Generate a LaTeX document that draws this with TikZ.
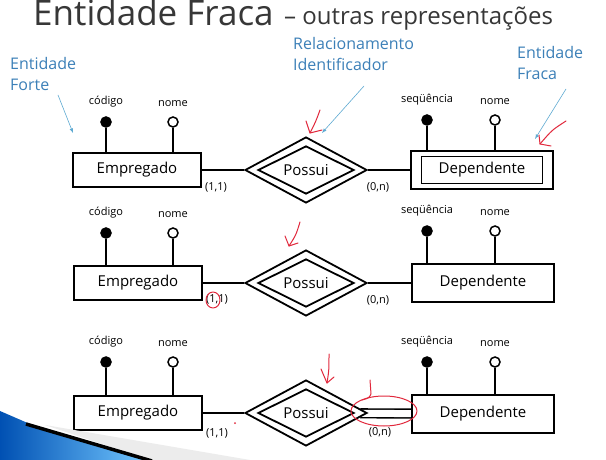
\documentclass[tikz,border=0pt]{standalone}
\usepackage{fontspec}
\setmainfont{Open Sans}
\newfontfamily\erfont{Open Sans}
\usepackage{xcolor}
\usetikzlibrary{shapes.geometric,positioning,arrows,backgrounds}

\definecolor{azul}{RGB}{60,128,184}
\definecolor{azulclaro}{RGB}{95,170,210}
\definecolor{vermelho}{RGB}{225,40,60}
\definecolor{titulo}{RGB}{55,55,55}

\tikzset{
  ent/.style={draw, line width=1.8pt, fill=white, minimum width=128pt, minimum height=34pt, inner sep=0pt, font=\erfont\fontsize{15}{17}\selectfont},
  fraca/.style={ent, minimum width=142pt, minimum height=38pt},
  fracain/.style={draw, line width=1.8pt, minimum width=121pt, minimum height=27pt, inner sep=0pt},
  rel/.style={draw, diamond, line width=1.8pt, fill=white, minimum width=122pt, minimum height=66pt, inner sep=0pt, font=\erfont\fontsize{15}{17}\selectfont},
  relin/.style={draw, diamond, line width=1.8pt, minimum width=96pt, minimum height=48pt, inner sep=0pt},
  chave/.style={circle, draw, fill=black, line width=1.5pt, minimum size=10pt, inner sep=0pt},
  atrib/.style={chave, fill=white},
  rotulo/.style={font=\erfont\fontsize{11}{12}\selectfont},
  card/.style={font=\erfont\fontsize{11}{12}\selectfont, inner sep=0pt},
  liga/.style={line width=1.8pt},
  nota/.style={text=azul, font=\fontsize{16}{21}\selectfont, align=left, anchor=north west, inner sep=0pt},
  seta/.style={draw=azulclaro, line width=0.6pt, -latex},
  risco/.style={draw=vermelho, line width=1pt, line cap=round, line join=round}
}

\begin{document}
\begin{tikzpicture}[x=1pt, y=-1pt]
\begin{pgfonlayer}{background}
\fill[white] (0,0) rectangle (606,460);
\end{pgfonlayer}
\useasboundingbox (0,0) rectangle (606,460);

% titulo
\node[anchor=base west, inner sep=0pt, text=titulo, font=\fontsize{35}{40}\selectfont] (tit) at (33,26) {Entidade Fraca};
\node[anchor=base west, inner sep=0pt, text=titulo, font=\fontsize{24}{28}\selectfont] (subtit) at (284,25) {-- outras representações};

% notas em azul
\node[nota] (forte) at (10,57) {Entidade\\Forte};
\node[nota] (ident) at (293,37) {Relacionamento\\Identificador};
\node[nota] (fraca) at (517,46) {Entidade\\Fraca};

% linha 1
\node[ent] (emp1) at (137,170) {Empregado};
\node[rel] (pos1) at (306,170) {Possui};
\node[relin] (pos1i) at (306,170) {};
\node[fraca] (dep1) at (482,170) {};
\node[fracain, font=\erfont\fontsize{15}{17}\selectfont] (dep1i) at (482,170) {Dependente};
\draw[liga] (emp1) -- (pos1);
\draw[liga] (pos1) -- (dep1);
\node[chave] (cod1) at (106,122) {};
\node[atrib] (nom1) at (173,122) {};
\node[rotulo, above=6pt of cod1] (cod1t) {código};
\node[rotulo, above=6pt of nom1] (nom1t) {nome};
\draw[liga] (cod1) -- (cod1 |- emp1.north);
\draw[liga] (nom1) -- (nom1 |- emp1.north);
\node[chave] (seq1) at (427,120) {};
\node[atrib] (dnom1) at (495,120) {};
\node[rotulo, above=6pt of seq1] (seq1t) {seqüência};
\node[rotulo, above=6pt of dnom1] (dnom1t) {nome};
\draw[liga] (seq1) -- (seq1 |- dep1.north);
\draw[liga] (dnom1) -- (dnom1 |- dep1.north);
\node[card] (c1a) at (216,187) {(1,1)};
\node[card] (c1b) at (378,187) {(0,n)};

% linha 2
\node[ent] (emp2) at (138,283) {Empregado};
\node[rel] (pos2) at (306,283) {Possui};
\node[relin] (pos2i) at (306,283) {};
\node[fraca] (dep2) at (483,283) {Dependente};
\draw[liga] (emp2) -- (pos2);
\draw[liga] (pos2) -- (dep2);
\node[chave] (cod2) at (106,233) {};
\node[atrib] (nom2) at (173,233) {};
\node[rotulo, above=6pt of cod2] (cod2t) {código};
\node[rotulo, above=6pt of nom2] (nom2t) {nome};
\draw[liga] (cod2) -- (cod2 |- emp2.north);
\draw[liga] (nom2) -- (nom2 |- emp2.north);
\node[chave] (seq2) at (427,231) {};
\node[atrib] (dnom2) at (495,231) {};
\node[rotulo, above=6pt of seq2] (seq2t) {seqüência};
\node[rotulo, above=6pt of dnom2] (dnom2t) {nome};
\draw[liga] (seq2) -- (seq2 |- dep2.north);
\draw[liga] (dnom2) -- (dnom2 |- dep2.north);
\node[card] (c2a) at (217,299) {(1,1)};
\node[card] (c2b) at (378,300) {(0,n)};

% linha 3
\node[ent] (emp3) at (138,413) {Empregado};
\node[rel] (pos3) at (306,413) {Possui};
\node[relin] (pos3i) at (306,413) {};
\node[fraca] (dep3) at (483,414) {Dependente};
\draw[liga] (emp3) -- (pos3);
\begin{pgfonlayer}{background}
\draw[line width=1.6pt, double, double distance=7pt, shorten <=-7pt] (pos3) -- (dep3);
\end{pgfonlayer}
\node[chave] (cod3) at (106,362) {};
\node[atrib] (nom3) at (173,362) {};
\node[rotulo, above=6pt of cod3] (cod3t) {código};
\node[rotulo, above=6pt of nom3] (nom3t) {nome};
\draw[liga] (cod3) -- (cod3 |- emp3.north);
\draw[liga] (nom3) -- (nom3 |- emp3.north);
\node[chave] (seq3) at (427,362) {};
\node[atrib] (dnom3) at (495,362) {};
\node[rotulo, above=6pt of seq3] (seq3t) {seqüência};
\node[rotulo, above=6pt of dnom3] (dnom3t) {nome};
\draw[liga] (seq3) -- (seq3 |- dep3.north);
\draw[liga] (dnom3) -- (dnom3 |- dep3.north);
\node[card] (c3a) at (217,433) {(1,1)};
\node[card] (c3b) at (380,432) {(0,n)};

% setas azuis
\coordinate (fortep) at (73,133);
\coordinate (identp) at (322,133);
\coordinate (fracap) at (535,139);
\draw[seta] (58,95) -- (fortep);
\draw[seta] (364,86) -- (identp);
\draw[seta] (566,89) -- (fracap);

% anotacoes em vermelho
\draw[risco] (320,110) .. controls (316,121) .. (310,133);
\draw[risco] (306,121) -- (310,133) -- (322,130);
\draw[risco] (566,121) .. controls (552,130) .. (540,144);
\draw[risco] (539,135) -- (540,144) -- (551,146);
\draw[risco] (300,222) .. controls (296,235) .. (289,246);
\draw[risco] (285,236) -- (289,246) -- (298,243);
\draw[risco] (213,300) ellipse [x radius=7, y radius=8];
\draw[risco] (329,354) .. controls (329,370) .. (327,383);
\draw[risco] (321,369) -- (327,383) -- (334,377);
\draw[risco] (384,411) ellipse [x radius=33, y radius=15];
\draw[risco] (370,380) -- (371,394) .. controls (369,398) .. (362,400);
\fill[vermelho] (235,423) circle [radius=1];

% enfeite do canto
\fill[gray!15] (45,425) -- (250,460) -- (150,460) -- cycle;
\shade[left color=blue!55!cyan!70!black, right color=cyan!60!blue!55] (0,411) -- (30,424) -- (148,460) -- (0,460) -- cycle;
\draw[line width=3.5pt] (26,424) -- (152,461);
\end{tikzpicture}
\end{document}
